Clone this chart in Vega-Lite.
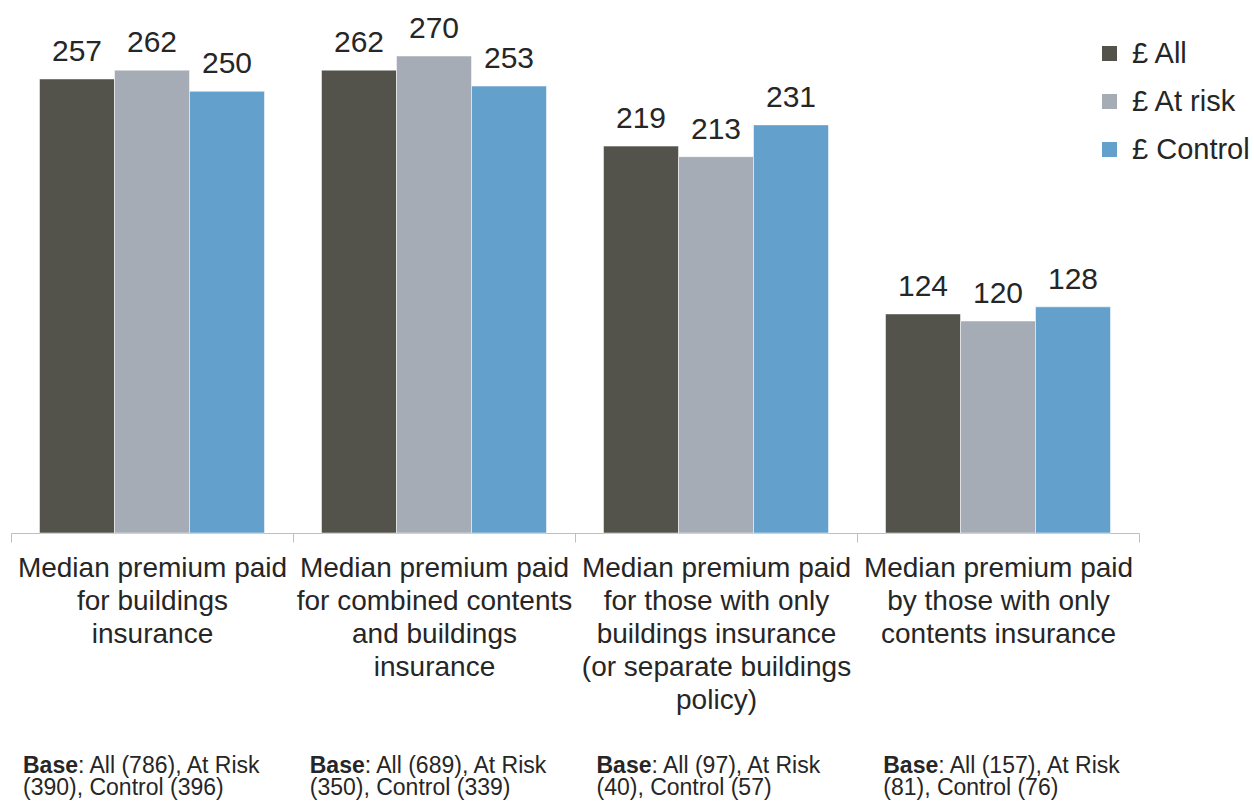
{
  "$schema": "https://vega.github.io/schema/vega-lite/v6.json",
  "padding": {"left": 10, "top": 3, "right": 0, "bottom": 0},
  "background": "white",
  "config": {"view": {"stroke": null}, "font": "Liberation Sans", "text": {"font": "Liberation Sans"}},
  "datasets": {
    "premiums": [
      {"measure": "Median premium paid|for buildings|insurance", "group": "£ All", "value": 257},
      {"measure": "Median premium paid|for buildings|insurance", "group": "£ At risk", "value": 262},
      {"measure": "Median premium paid|for buildings|insurance", "group": "£ Control", "value": 250},
      {"measure": "Median premium paid|for combined contents|and buildings|insurance", "group": "£ All", "value": 262},
      {"measure": "Median premium paid|for combined contents|and buildings|insurance", "group": "£ At risk", "value": 270},
      {"measure": "Median premium paid|for combined contents|and buildings|insurance", "group": "£ Control", "value": 253},
      {"measure": "Median premium paid|for those with only|buildings insurance|(or separate buildings|policy)", "group": "£ All", "value": 219},
      {"measure": "Median premium paid|for those with only|buildings insurance|(or separate buildings|policy)", "group": "£ At risk", "value": 213},
      {"measure": "Median premium paid|for those with only|buildings insurance|(or separate buildings|policy)", "group": "£ Control", "value": 231},
      {"measure": "Median premium paid|by those with only|contents insurance", "group": "£ All", "value": 124},
      {"measure": "Median premium paid|by those with only|contents insurance", "group": "£ At risk", "value": 120},
      {"measure": "Median premium paid|by those with only|contents insurance", "group": "£ Control", "value": 128}
    ],
    "bases": [
      {"measure": "buildings", "line": 1, "part": "label", "text": "Base"},
      {"measure": "buildings", "line": 1, "part": "detail1", "text": ": All (786), At Risk"},
      {"measure": "buildings", "line": 2, "part": "detail2", "text": "(390), Control (396)"},
      {"measure": "combined", "line": 1, "part": "label", "text": "Base"},
      {"measure": "combined", "line": 1, "part": "detail1", "text": ": All (689), At Risk"},
      {"measure": "combined", "line": 2, "part": "detail2", "text": "(350), Control (339)"},
      {"measure": "buildings only", "line": 1, "part": "label", "text": "Base"},
      {"measure": "buildings only", "line": 1, "part": "detail1", "text": ": All (97), At Risk"},
      {"measure": "buildings only", "line": 2, "part": "detail2", "text": "(40), Control (57)"},
      {"measure": "contents only", "line": 1, "part": "label", "text": "Base"},
      {"measure": "contents only", "line": 1, "part": "detail1", "text": ": All (157), At Risk"},
      {"measure": "contents only", "line": 2, "part": "detail2", "text": "(81), Control (76)"}
    ]
  },
  "spacing": 41,
  "resolve": {"scale": {"x": "independent", "y": "independent"}},
  "vconcat": [
    {
      "width": 1128,
      "height": 530,
      "data": {"name": "premiums"},
      "encoding": {
        "x": {
          "field": "measure", "type": "nominal", "sort": null,
          "scale": {"paddingInner": 0, "paddingOuter": 0},
          "axis": {
            "title": null, "labelAngle": 0,
            "labelExpr": "split(datum.label, '|')",
            "labelFont": "Liberation Sans", "labelFontSize": 28, "labelLineHeight": 33,
            "labelColor": "#262626", "labelLimit": 400, "labelPadding": 12,
            "domainColor": "#bfbfbf", "tickColor": "#bfbfbf", "tickSize": 9,
            "tickBand": "extent"
          }
        },
        "xOffset": {
          "field": "group", "type": "nominal",
          "sort": ["£ All", "£ At risk", "£ Control"],
          "scale": {"paddingInner": 0, "paddingOuter": 0.38}
        },
        "y": {"field": "value", "type": "quantitative", "scale": {"domain": [0, 300]}, "axis": null}
      },
      "layer": [
        {
          "mark": {"type": "bar", "stroke": "#ffffff", "strokeWidth": 1, "strokeOpacity": 0.5},
          "encoding": {
            "color": {
              "field": "group", "type": "nominal",
              "scale": {"domain": ["£ All", "£ At risk", "£ Control"], "range": ["#53534b", "#a5acb5", "#63a0cb"]},
              "legend": {
                "title": null, "orient": "none", "legendX": 1084, "legendY": 36,
                "symbolType": "square", "symbolSize": 225, "symbolStrokeWidth": 0,
                "labelFont": "Liberation Sans", "labelFontSize": 29, "labelColor": "#262626",
                "labelOffset": 8, "rowPadding": 18
              }
            }
          }
        },
        {
          "mark": {"type": "text", "baseline": "alphabetic", "dy": -18, "fontSize": 30, "color": "#262626"},
          "encoding": {"text": {"field": "value", "type": "quantitative"}}
        }
      ]
    },
    {
      "width": 1147,
      "height": 44,
      "data": {"name": "bases"},
      "encoding": {
        "x": {
          "field": "measure", "type": "nominal", "sort": ["buildings", "combined", "buildings only", "contents only"],
          "bandPosition": 0,
          "scale": {"type": "band", "paddingInner": 0, "paddingOuter": 0},
          "axis": null
        },
        "y": {"field": "line", "type": "ordinal", "scale": {"type": "point", "padding": 0.5}, "axis": null},
        "text": {"field": "text", "type": "nominal"}
      },
      "layer": [
        {
          "transform": [{"filter": "datum.part === 'label'"}],
          "mark": {"type": "text", "align": "left", "baseline": "middle", "dx": 12, "fontSize": 23, "fontWeight": "bold", "color": "#262626"}
        },
        {
          "transform": [{"filter": "datum.part === 'detail1'"}],
          "mark": {"type": "text", "align": "left", "baseline": "middle", "dx": 67, "fontSize": 23, "color": "#262626"}
        },
        {
          "transform": [{"filter": "datum.part === 'detail2'"}],
          "mark": {"type": "text", "align": "left", "baseline": "middle", "dx": 12, "fontSize": 23, "color": "#262626"}
        }
      ]
    }
  ]
}
